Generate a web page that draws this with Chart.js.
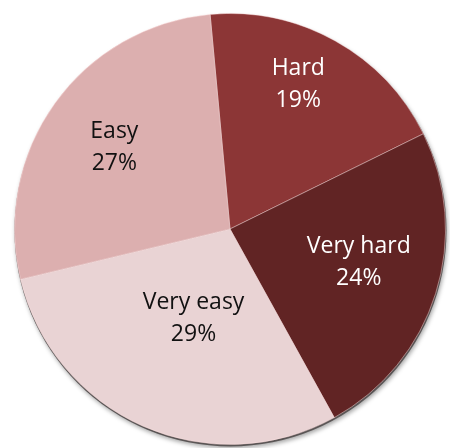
<!DOCTYPE html>
<html>
<head>
<meta charset="utf-8">
<script src="https://cdn.jsdelivr.net/npm/chart.js@4/dist/chart.umd.min.js"></script>
<style>
  html, body { margin: 0; padding: 0; background: #fff; }
  #wrap { width: 450px; height: 448px; position: relative; }
</style>
</head>
<body>
<div id="wrap"><canvas id="pie"></canvas></div>
<script>
// difficulty rating share, clockwise from the top
const categories = ['Hard', 'Very hard', 'Very easy', 'Easy'];
const percents = [19, 24, 29, 27];
const sliceColors = ['#8c3636', '#612424', '#e9d3d4', '#dcafaf'];
const textColors = ['#ffffff', '#ffffff', '#111111', '#111111'];

// where each label sits: fraction of radius + small angle nudge (deg)
const labelSpots = [
    { f: 0.74, da: -3.9 },
    { f: 0.617, da: -3 },
    { f: 0.45, da: -1.7 },
    { f: 0.656, da: -0.5 }
];

// soft dark rim under the pie
const rimShadow = {
    id: 'rimShadow',
    beforeDatasetsDraw(chart) {
        const arc = chart.getDatasetMeta(0).data[0];
        if (!arc) return;
        const { x, y, outerRadius } = arc.getProps(['x', 'y', 'outerRadius'], true);
        const ctx = chart.ctx;
        ctx.save();
        ctx.beginPath();
        ctx.arc(x + 0.5, y + 1.5, outerRadius + 0.5, 0, Math.PI * 2);
        ctx.fillStyle = '#5a5555';
        ctx.shadowColor = 'rgba(0,0,0,0.35)';
        ctx.shadowBlur = 4;
        ctx.shadowOffsetX = 1;
        ctx.shadowOffsetY = 2;
        ctx.fill();
        ctx.restore();
    }
};

// category + percent written inside each slice
const sliceLabels = {
    id: 'sliceLabels',
    afterDatasetsDraw(chart) {
        const ctx = chart.ctx;
        const meta = chart.getDatasetMeta(0);
        ctx.save();
        ctx.font = '23px "Open Sans", sans-serif';
        ctx.textAlign = 'center';
        ctx.textBaseline = 'middle';
        meta.data.forEach((arc, i) => {
            const p = arc.getProps(['x', 'y', 'startAngle', 'endAngle', 'outerRadius'], true);
            const spot = labelSpots[i];
            const mid = (p.startAngle + p.endAngle) / 2 + spot.da * Math.PI / 180;
            const px = p.x + Math.cos(mid) * p.outerRadius * spot.f;
            const py = p.y + Math.sin(mid) * p.outerRadius * spot.f;
            ctx.fillStyle = textColors[i];
            ctx.fillText(categories[i], px, py - 16);
            ctx.fillText(percents[i] + '%', px, py + 16);
        });
        ctx.restore();
    }
};

new Chart(document.getElementById('pie'), {
    type: 'pie',
    data: {
        labels: categories,
        datasets: [{
            data: percents,
            backgroundColor: sliceColors,
            borderColor: 'rgba(255,225,225,0.45)',
            borderWidth: 1
        }]
    },
    options: {
        responsive: true,
        maintainAspectRatio: false,
        animation: false,
        rotation: -5.3,
        layout: {
            padding: { left: 14, right: 4, top: 13, bottom: 3 }
        },
        plugins: {
            legend: { display: false },
            tooltip: { enabled: false }
        }
    },
    plugins: [rimShadow, sliceLabels]
});
</script>
</body>
</html>
